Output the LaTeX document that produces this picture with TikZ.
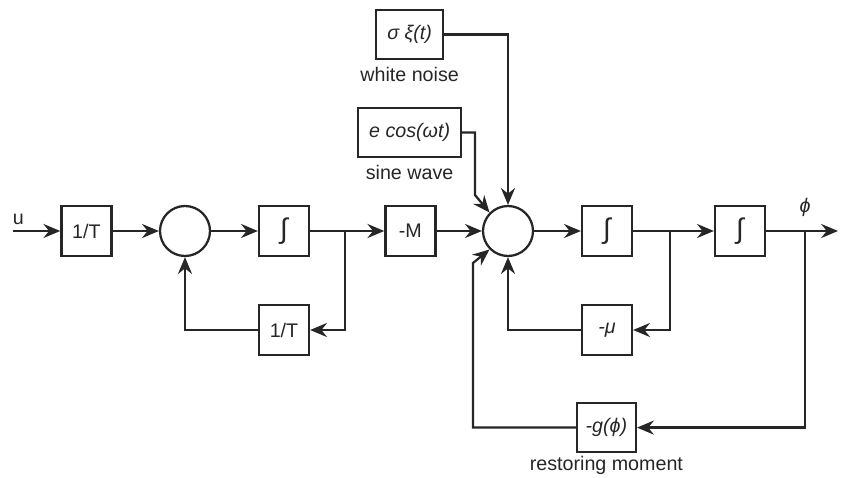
\documentclass[tikz,border=0pt]{standalone}
\usepackage{fontspec}
\setmainfont{Liberation Sans}
\usetikzlibrary{arrows.meta,calc}
\tikzset{
  blk/.style={draw,line width=1.6pt,minimum width=1.25cm,minimum height=1.25cm,inner sep=2pt,font=\fontsize{14}{16}\selectfont},
  sumnode/.style={draw,circle,line width=1.6pt,minimum size=1.25cm,inner sep=0pt},
  lbl/.style={font=\fontsize{14}{16}\selectfont},
  sig/.style={line width=1.6pt,-{Stealth[length=12pt,width=10pt,inset=4pt]}}
}
\newcommand{\intsym}{{\fontsize{20}{20}\selectfont ∫}}
\begin{document}
\begin{tikzpicture}[black!85]
  \useasboundingbox (0,0) rectangle (21.05,-11.925);
  \coordinate (u) at (0.325,-5.775);
  \node[lbl,above right] at (0.2,-5.75) {u};
  \node[blk] (b1) at (2.16,-5.775) {1/T};
  \node[sumnode] (s1) at (4.625,-5.775) {};
  \node[blk] (i1) at (7.1,-5.775) {\intsym};
  \node[blk] (fb1) at (7.1,-8.25) {1/T};
  \coordinate (br1) at (8.625,-5.775);
  \node[blk] (m) at (10.26,-5.775) {-M};
  \node[sumnode] (s2) at (12.7,-5.775) {};
  \node[blk,minimum width=1.675cm,minimum height=1.225cm] (wn) at (10.24,-0.86) {\itshape σ ξ(t)};
  \node[lbl] (wnl) at (10.24,-1.85) {white noise};
  \node[blk,minimum width=2.575cm,minimum height=1.225cm] (sw) at (10.24,-3.31) {\itshape e cos(ωt)};
  \node[lbl] (swl) at (10.24,-4.3) {sine wave};
  \node[blk] (i2) at (15.175,-5.775) {\intsym};
  \coordinate (br2) at (16.75,-5.775);
  \node[blk] (mu) at (15.175,-8.25) {\itshape -μ};
  \node[blk] (i3) at (18.5,-5.775) {\intsym};
  \coordinate (br3) at (20.125,-5.775);
  \node[lbl,above] at (20.125,-5.55) {\itshape ϕ};
  \coordinate (out) at (20.95,-5.775);
  \node[blk,minimum width=1.475cm,minimum height=1.225cm] (g) at (15.16,-10.69) {\itshape -g(ϕ)};
  \node[lbl] (gl) at (15.16,-11.63) {restoring moment};

  \draw[sig] (u) -- (b1);
  \draw[sig] (b1) -- (s1);
  \draw[sig] (s1) -- (i1);
  \draw[sig] (i1) -- (m);
  \draw[sig] (br1) |- (fb1.east);
  \draw[sig] (fb1.west) -| (s1.south);
  \draw[sig] (m) -- (s2);
  \draw[sig] (wn.east) -| (s2.north);
  \draw[sig] (sw.east) -| (11.875,-4.875) -- (s2.135);
  \draw[sig] (s2) -- (i2);
  \draw[sig] (i2) -- (i3);
  \draw[sig] (br2) |- (mu.east);
  \draw[sig] (mu.west) -| (s2.south);
  \draw[sig] (i3) -- (out);
  \draw[sig] (br3) |- (g.east);
  \draw[sig] (g.west) -| (11.825,-6.575) -- (s2.225);
\end{tikzpicture}
\end{document}
